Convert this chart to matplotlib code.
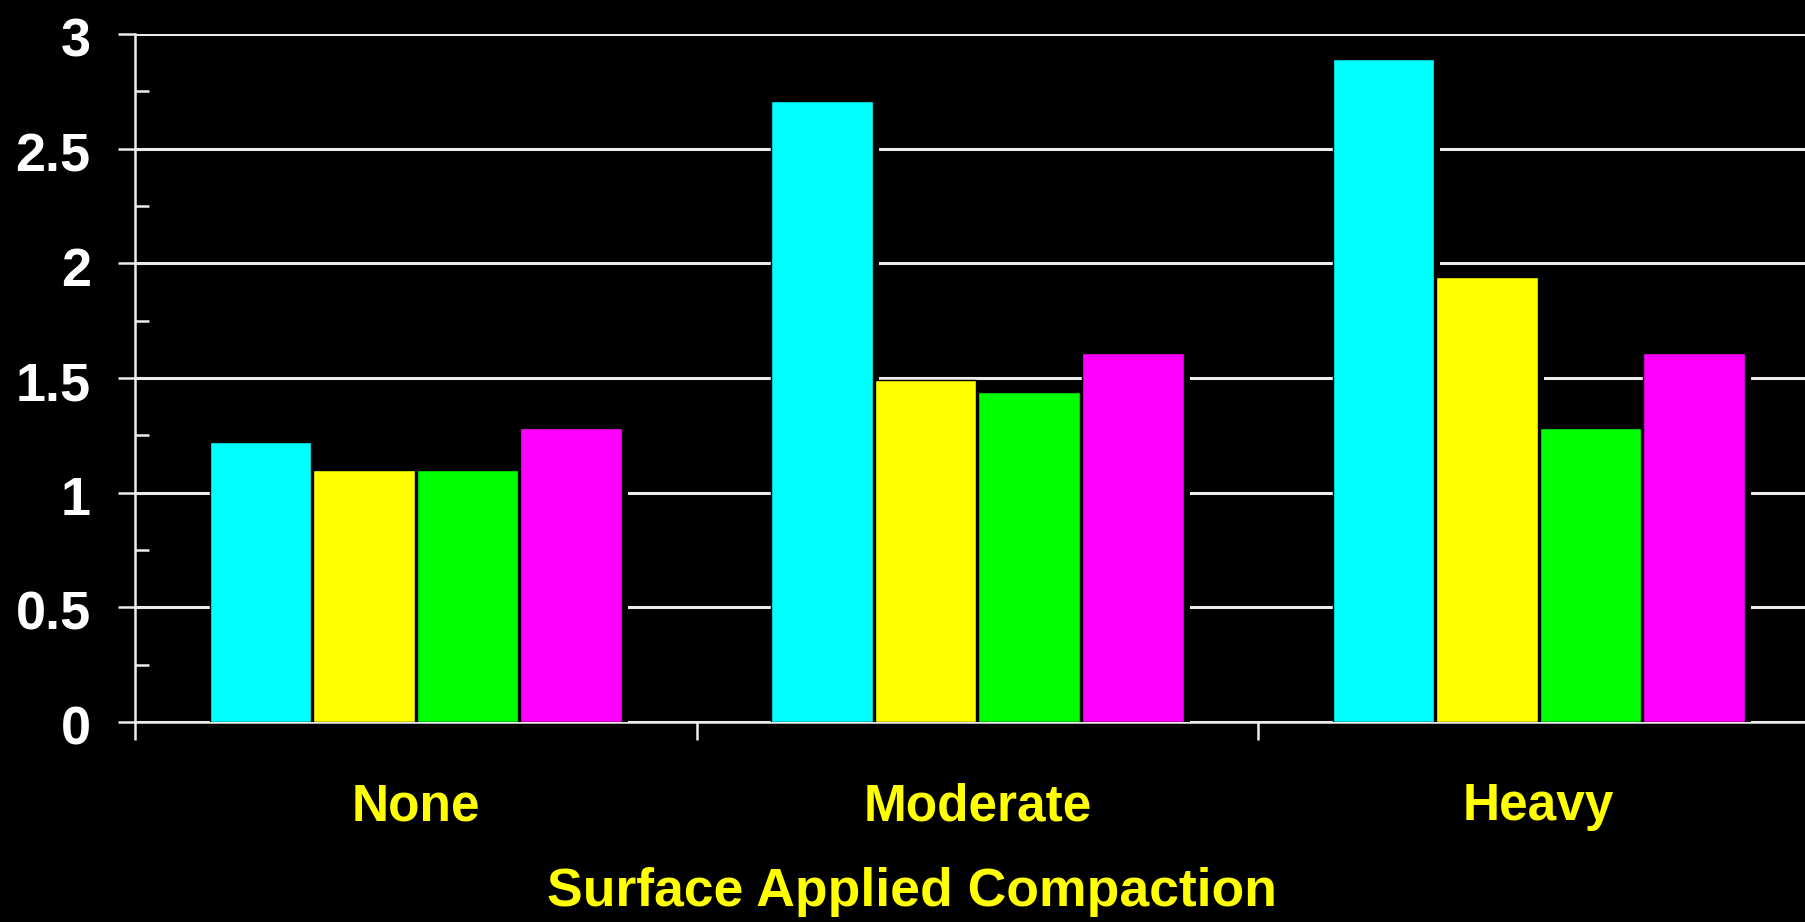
import matplotlib
matplotlib.use("Agg")
import matplotlib.pyplot as plt
import matplotlib.patheffects as pe
import matplotlib.transforms as mtransforms
from matplotlib.ticker import MultipleLocator, FixedLocator, NullFormatter
import numpy as np

categories = ["None", "Moderate", "Heavy"]
series_cyan = [1.22, 2.71, 2.89]
series_yellow = [1.10, 1.49, 1.94]
series_green = [1.10, 1.44, 1.28]
series_magenta = [1.28, 1.61, 1.61]
colors = ["#00ffff", "#ffff00", "#00ff00", "#ff00ff"]
y_ticks = [0, 0.5, 1, 1.5, 2, 2.5, 3]
y_tick_labels = ["0", "0.5", "1", "1.5", "2", "2.5", "3"]
x_title = "Surface Applied Compaction"

plt.rcParams["font.family"] = ["Liberation Sans", "DejaVu Sans"]
plt.rcParams["font.weight"] = "bold"

fig = plt.figure(figsize=(18.06, 9.22), dpi=100, facecolor="black")
ax = fig.add_axes([0.0748, 0.2169, 0.9327, 0.7462], facecolor="black")

x = np.arange(len(categories))
width = 0.181
series = [series_cyan, series_yellow, series_green, series_magenta]
shadow = [pe.SimplePatchShadow(offset=(4.5, -1.0), shadow_rgbFace="black", alpha=1.0), pe.Normal()]
for i, (vals, col) in enumerate(zip(series, colors)):
    offs = (i - 1.5) * (width + 0.0036)
    bars = ax.bar(x + offs, vals, width, color=col, edgecolor="black", linewidth=1, zorder=3)
    for b in bars:
        b.set_path_effects(shadow)

ax.set_xlim(-0.5, 2.5)
ax.set_ylim(0, 3)

grid_col = "#ececec"
ax.set_yticks(y_ticks)
ax.set_yticklabels(y_tick_labels)
ax.yaxis.set_minor_locator(MultipleLocator(0.25))
ax.tick_params(axis="y", which="major", direction="out", length=12, width=1.8,
               color=grid_col, labelcolor="white", labelsize=39, pad=20)
ax.tick_params(axis="y", which="minor", direction="in", length=10, width=1.8, color=grid_col)
ax.grid(axis="y", which="major", color=grid_col, linewidth=2.2, zorder=1)
ax.set_axisbelow(True)
# nudge y labels down a little
shift = mtransforms.ScaledTranslation(0, -3 / 100, fig.dpi_scale_trans)
for lab in ax.get_yticklabels():
    lab.set_transform(lab.get_transform() + shift)

ax.xaxis.set_major_locator(FixedLocator([-0.5, 0.5, 1.5]))
ax.xaxis.set_major_formatter(NullFormatter())
ax.tick_params(axis="x", which="major", direction="out", length=13, width=1.8, color=grid_col)

for s in ["top", "right"]:
    ax.spines[s].set_visible(False)
for s in ["left", "bottom"]:
    ax.spines[s].set_color(grid_col)
    ax.spines[s].set_linewidth(1.8)

trans = mtransforms.blended_transform_factory(ax.transData, fig.transFigure)
for xi, name in zip(x, categories):
    ax.text(xi, 0.1106, name, transform=trans, ha="center", va="baseline",
            color="#ffff00", fontsize=37, fontweight="bold")

fig.text(0.505, 0.0174, x_title, ha="center", va="baseline",
         color="#ffff00", fontsize=38.5, fontweight="bold")

fig.savefig("out.png", dpi=100, facecolor="black")
